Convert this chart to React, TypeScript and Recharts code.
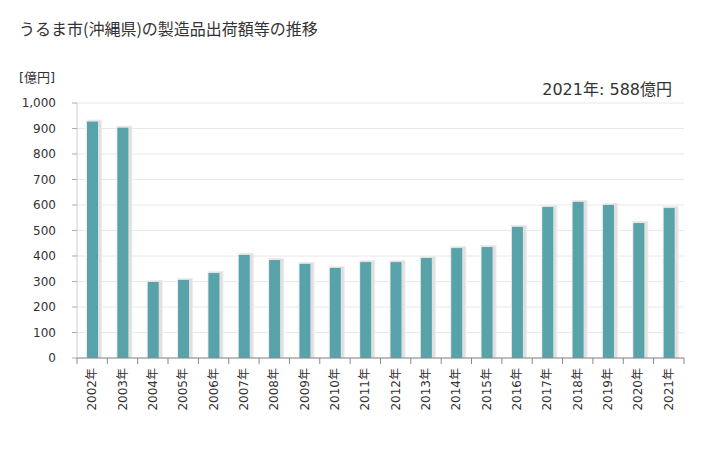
import { BarChart, Bar, XAxis, YAxis, CartesianGrid } from "recharts";

const years = [
  "2002年", "2003年", "2004年", "2005年", "2006年", "2007年", "2008年",
  "2009年", "2010年", "2011年", "2012年", "2013年", "2014年", "2015年",
  "2016年", "2017年", "2018年", "2019年", "2020年", "2021年",
];
const values = [
  927, 903, 298, 306, 333, 404, 384, 369, 353, 376, 376, 392, 431, 435,
  514, 592, 612, 600, 529, 588,
];
const yTicks = [0, 100, 200, 300, 400, 500, 600, 700, 800, 900, 1000];

const data = years.map((year, i) => ({ year, value: values[i] }));

const FONT = "'DejaVu Sans', 'Noto Sans CJK JP', sans-serif";
const TITLE_FONT = "'Noto Sans CJK JP', sans-serif";
const BAR_COLOR = "#58a3a9";

// bar with the soft grey drop shadow seen in the original
const ShadowBar = (props: any) => {
  const { x, y, width, height } = props;
  if (!height) return null;
  return (
    <g>
      <rect x={x - 1} y={y - 2} width={width + 5} height={height + 2} fill="#ececec" />
      <rect x={x + 1} y={y - 1} width={width + 2} height={height + 1} fill="#e0e0e0" />
      <rect x={x} y={y} width={width} height={height} fill={BAR_COLOR} />
    </g>
  );
};

const YearTick = (props: any) => {
  const { x, y, payload, index } = props;
  const bw = 30.4;
  return (
    <g>
      <line x1={x - bw / 2} x2={x - bw / 2} y1={y - 8} y2={y - 2} stroke="#888" />
      {index === years.length - 1 && (
        <line x1={x + bw / 2} x2={x + bw / 2} y1={y - 8} y2={y - 2} stroke="#888" />
      )}
      <text
        x={0}
        y={0}
        transform={`translate(${x + 4},${y + 2}) rotate(-90)`}
        textAnchor="end"
        fontSize={12}
        fill="#333"
        fontFamily={FONT}
      >
        {payload.value}
      </text>
    </g>
  );
};

export default function App() {
  return (
    <div
      style={{
        position: "absolute",
        left: 0,
        top: 0,
        width: 728,
        height: 450,
        background: "#fff",
        fontFamily: FONT,
      }}
    >
      <div
        style={{
          position: "absolute",
          left: 19,
          top: 16,
          fontSize: 16,
          color: "#333",
          fontFamily: TITLE_FONT,
        }}
      >
        うるま市(沖縄県)の製造品出荷額等の推移
      </div>
      <div style={{ position: "absolute", left: 19, top: 67, fontSize: 13, color: "#333" }}>
        [億円]
      </div>
      <div
        style={{
          position: "absolute",
          right: 56,
          top: 76,
          fontSize: 16,
          color: "#333",
        }}
      >
        2021年: 588億円
      </div>
      <BarChart
        width={728}
        height={450}
        data={data}
        margin={{ top: 103, right: 44, left: 0, bottom: 0 }}
        barCategoryGap={0}
      >
        <CartesianGrid stroke="#e8e8e8" vertical={false} />
        <XAxis
          dataKey="year"
          interval={0}
          tick={<YearTick />}
          tickLine={false}
          axisLine={{ stroke: "#888" }}
          height={92}
        />
        <YAxis
          width={77}
          domain={[0, 1000]}
          ticks={yTicks}
          interval={0}
          tickFormatter={(v: number) => v.toLocaleString("en-US")}
          tick={{ fill: "#333", fontSize: 12, fontFamily: FONT }}
          tickSize={5}
          tickMargin={16}
          tickLine={{ stroke: "#aaa" }}
          axisLine={{ stroke: "#ccc" }}
        />
        <Bar
          dataKey="value"
          barSize={11}
          shape={<ShadowBar />}
          isAnimationActive={false}
        />
      </BarChart>
    </div>
  );
}
